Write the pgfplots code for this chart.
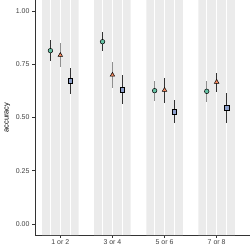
\documentclass[border=0pt]{standalone}
\usepackage{fontspec}
\setmainfont{Liberation Sans}
\usepackage{pgfplots}
\usetikzlibrary{calc}
\pgfplotsset{compat=1.18}
\definecolor{band}{HTML}{EBEBEB}
\definecolor{cgreen}{HTML}{66C2A5}
\definecolor{corange}{HTML}{FC8D62}
\definecolor{cblue}{HTML}{8DA0CB}
\definecolor{axc}{HTML}{333333}
\definecolor{ebdark}{HTML}{333333}
\definecolor{eblight}{HTML}{8F8F8F}
\begin{document}
\begin{tikzpicture}
\begin{axis}[
  scale only axis,
  width=215bp, height=235bp,
  xmin=0.514, xmax=4.64,
  ymin=-0.052, ymax=1.052,
  axis lines=left,
  axis line style={axc, line width=0.6bp, -},
  xtick={1,2,3,4},
  xticklabels={1 or 2, 3 or 4, 5 or 6, 7 or 8},
  ytick={0,0.25,0.5,0.75,1},
  yticklabels={0.00,0.25,0.50,0.75,1.00},
  tick style={axc, line width=0.6bp},
  tick align=outside,
  major tick length=2.5bp,
  ticklabel style={font=\fontsize{7}{8}\selectfont, text=black!75},
  xticklabel style={yshift=1bp},
  yticklabel style={xshift=0.5bp},
  ylabel={accuracy},
  ylabel style={font=\fontsize{7.5}{9}\selectfont, yshift=-1bp},
  clip=false,
]
% bands
\addplot[fill=band, draw=none] coordinates {(0.65,-0.052) (1.35,-0.052) (1.35,1.052) (0.65,1.052)} \closedcycle;
\addplot[fill=band, draw=none] coordinates {(1.65,-0.052) (2.35,-0.052) (2.35,1.052) (1.65,1.052)} \closedcycle;
\addplot[fill=band, draw=none] coordinates {(2.65,-0.052) (3.35,-0.052) (3.35,1.052) (2.65,1.052)} \closedcycle;
\addplot[fill=band, draw=none] coordinates {(3.65,-0.052) (4.35,-0.052) (4.35,1.052) (3.65,1.052)} \closedcycle;
% white lines
\pgfplotsinvokeforeach{0.81,1,1.19,1.81,2,2.19,2.81,3,3.19,3.81,4,4.19}{
  \addplot[white, line width=0.6bp, forget plot] coordinates {(#1,-0.052) (#1,1.052)};
}
% error bars dark
\addplot[draw=none, mark=none, error bars/.cd, y dir=both, y explicit, error mark=none,
  error bar style={ebdark, line width=0.9bp}] coordinates {
  (0.81,0.814) += (0,0.050) -= (0,0.047)
  (1.19,0.673) += (0,0.061) -= (0,0.063)
  (1.81,0.856) += (0,0.044) -= (0,0.042)
  (2.19,0.629) += (0,0.069) -= (0,0.066)
  (3.00,0.629) += (0,0.055) -= (0,0.059)
  (3.19,0.526) += (0,0.056) -= (0,0.053)
  (4.00,0.667) += (0,0.040) -= (0,0.046)
  (4.19,0.546) += (0,0.070) -= (0,0.070)
};
% error bars light
\addplot[draw=none, mark=none, error bars/.cd, y dir=both, y explicit, error mark=none,
  error bar style={eblight, line width=1.3bp}] coordinates {
  (1.00,0.793) += (0,0.058) -= (0,0.055)
  (2.00,0.700) += (0,0.060) -= (0,0.060)
  (2.81,0.626) += (0,0.045) -= (0,0.047)
  (3.81,0.623) += (0,0.048) -= (0,0.049)
};
% points
\addplot[only marks, mark=*, mark size=2.3bp, mark options={fill=cgreen, draw=black, line width=0.5bp}] coordinates {
  (0.81,0.814) (1.81,0.856) (2.81,0.626) (3.81,0.623)};
\addplot[only marks, mark=triangle*, mark size=2.6bp, mark options={fill=corange, draw=black, line width=0.5bp}] coordinates {
  (1.00,0.793) (2.00,0.700) (3.00,0.629) (4.00,0.667)};
\addplot[only marks, mark=square*, mark size=2.3bp, mark options={fill=cblue, draw=black, line width=0.5bp}] coordinates {
  (1.19,0.673) (2.19,0.629) (3.19,0.526) (4.19,0.546)};
\end{axis}
\pgfresetboundingbox
\path ($(current axis.south west)+(-35bp,-10bp)$) rectangle (current axis.north east);
\end{tikzpicture}
\end{document}
